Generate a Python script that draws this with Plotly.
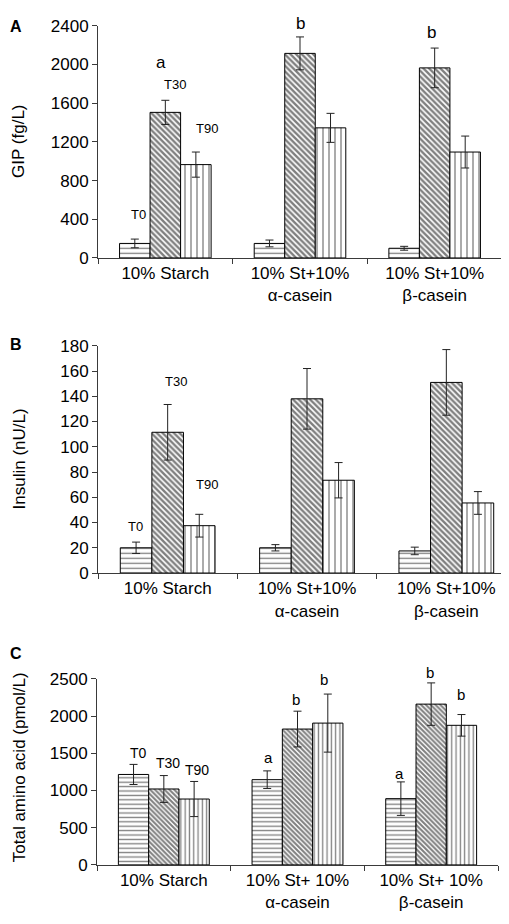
import plotly.graph_objects as go

W, H = 509, 924

# ---------------- data ----------------
cats_ab = ["10% Starch", "10% St+10%<br>α-casein", "10% St+10%<br>β-casein"]
cats_c = ["10% Starch", "10% St+ 10%<br>α-casein", "10% St+ 10%<br>β-casein"]
times = ["T0", "T30", "T90"]

gip_t0 = [150, 150, 100]
gip_t30 = [1505, 2115, 1965]
gip_t90 = [965, 1345, 1095]
gip_t0_err = [45, 35, 20]
gip_t30_err = [125, 170, 205]
gip_t90_err = [130, 150, 165]

ins_t0 = [20, 20, 17.5]
ins_t30 = [111.5, 138, 151]
ins_t90 = [37.5, 73.5, 55.5]
ins_t0_err = [4.5, 2.5, 3]
ins_t30_err = [22, 24, 26]
ins_t90_err = [9, 14, 9]

aa_t0 = [1215, 1145, 890]
aa_t30 = [1020, 1825, 2160]
aa_t90 = [885, 1905, 1875]
aa_t0_err = [135, 118, 225]
aa_t30_err = [180, 240, 285]
aa_t90_err = [236, 390, 145]

# ---------------- styling ----------------
FONT = "Liberation Sans, Arial, sans-serif"
AXC = "#3a3a3a"
shapes_t = {"T0": "-", "T30": "\\", "T90": "|"}
# (size, solidity) per panel and series
pat_ab = {"T0": (5, 0.26), "T30": (4, 0.6), "T90": (6, 0.22)}
pat_c = {"T0": (4.4, 0.3), "T30": (3.4, 0.6), "T90": (4.3, 0.3)}

fig = go.Figure()


def add_panel(n, cats, series, errs, pats):
    xa = "x" if n == 1 else f"x{n}"
    ya = "y" if n == 1 else f"y{n}"
    for t, vals, er in zip(times, series, errs):
        size, sol = pats[t]
        fig.add_trace(go.Bar(
            x=cats, y=vals, name=t, xaxis=xa, yaxis=ya, showlegend=False,
            marker=dict(color="white",
                        line=dict(color="black", width=1),
                        pattern=dict(shape=shapes_t[t], size=size,
                                     solidity=sol, fgcolor="black",
                                     bgcolor="white", fillmode="overlay")),
            error_y=dict(type="data", array=er, visible=True,
                         color="#222", thickness=1, width=4),
        ))


add_panel(1, cats_ab, [gip_t0, gip_t30, gip_t90], [gip_t0_err, gip_t30_err, gip_t90_err], pat_ab)
add_panel(2, cats_ab, [ins_t0, ins_t30, ins_t90], [ins_t0_err, ins_t30_err, ins_t90_err], pat_ab)
add_panel(3, cats_c, [aa_t0, aa_t30, aa_t90], [aa_t0_err, aa_t30_err, aa_t90_err], pat_c)


def px_x(a, b):
    return [a / W, b / W]


def px_y(top, bottom):
    return [1 - bottom / H, 1 - top / H]


xcommon = dict(type="category", showline=True, linecolor=AXC, linewidth=1,
               ticks="outside", tickson="boundaries", ticklen=5, tickcolor=AXC,
               tickfont=dict(family=FONT, size=17, color="black"),
               ticklabelstandoff=0, showgrid=False, zeroline=False, fixedrange=True)
ycommon = dict(showline=True, linecolor=AXC, linewidth=1, ticks="outside",
               ticklen=5, tickcolor=AXC,
               tickfont=dict(family=FONT, size=17, color="black"),
               showgrid=False, zeroline=False, fixedrange=True)

fig.update_layout(
    width=W, height=H,
    margin=dict(l=0, r=0, t=0, b=0),
    paper_bgcolor="white", plot_bgcolor="white",
    barmode="group", bargap=0.32, bargroupgap=0,
    font=dict(family=FONT, color="black"),
    xaxis=dict(domain=px_x(90, 494), anchor="y", **xcommon),
    yaxis=dict(domain=px_y(9, 246), anchor="x", range=[0, 2400], dtick=400, **ycommon),
    xaxis2=dict(domain=px_x(90, 508), anchor="y2", **xcommon),
    yaxis2=dict(domain=px_y(335.7, 567.7), anchor="x2", range=[0, 180], dtick=20, **ycommon),
    xaxis3=dict(domain=px_x(89, 490), anchor="y3", **xcommon),
    yaxis3=dict(domain=px_y(675.7, 865.7), anchor="x3", range=[0, 2500], dtick=500, **ycommon),
)

ann = []


def txt(x, y, s, n, size=13, yshift=0):
    xa = "x" if n == 1 else f"x{n}"
    ya = "y" if n == 1 else f"y{n}"
    ann.append(dict(x=x, y=y, xref=xa, yref=ya, text=s, showarrow=False,
                    xanchor="center", yanchor="middle", yshift=yshift,
                    font=dict(family=FONT, size=size, color="black")))


# Panel A labels
txt(-0.03, 2018, "a", 1, size=17)
txt(0.07, 1792, "T30", 1)
txt(0.31, 1337, "T90", 1)
txt(-0.20, 446, "T0", 1)
txt(1.0, 2400, "b", 1, size=17, yshift=2)
txt(2 - 0.02, 2329, "b", 1, size=17)

# Panel B labels
txt(0.06, 152, "T30", 2)
txt(0.28, 69.8, "T90", 2)
txt(-0.23, 37, "T0", 2)

# Panel C labels
txt(-0.19, 1500, "T0", 3, size=14)
txt(0.03, 1364, "T30", 3, size=14)
txt(0.25, 1272, "T90", 3, size=14)
txt(1 - 0.22, 1447, "a", 3, size=15)
txt(1 - 0.01, 2224, "b", 3, size=15)
txt(1 + 0.20, 2487, "b", 3, size=15)
txt(2 - 0.24, 1233, "a", 3, size=15)
txt(2 - 0.01, 2500, "b", 3, size=15, yshift=6.7)
txt(2 + 0.22, 2290, "b", 3, size=15)

# y-axis titles
for label, yc in [("GIP (fg/L)", 127.5), ("Insulin (nU/L)", 451.7),
                  ("Total amino acid (pmol/L)", 766)]:
    ann.append(dict(x=11 / W, y=1 - yc / H, xref="paper", yref="paper", text=label,
                    showarrow=False, textangle=-90, xanchor="center", yanchor="middle",
                    font=dict(family=FONT, size=17, color="black")))

# panel letters
for label, yc in [("A", 10), ("B", 334), ("C", 650)]:
    ann.append(dict(x=7.5 / W, y=1 - yc / H, xref="paper", yref="paper",
                    text=f"<b>{label}</b>", showarrow=False, xanchor="center",
                    yanchor="middle", font=dict(family=FONT, size=16, color="black")))

fig.update_layout(annotations=ann)

fig.write_html("out.html")
